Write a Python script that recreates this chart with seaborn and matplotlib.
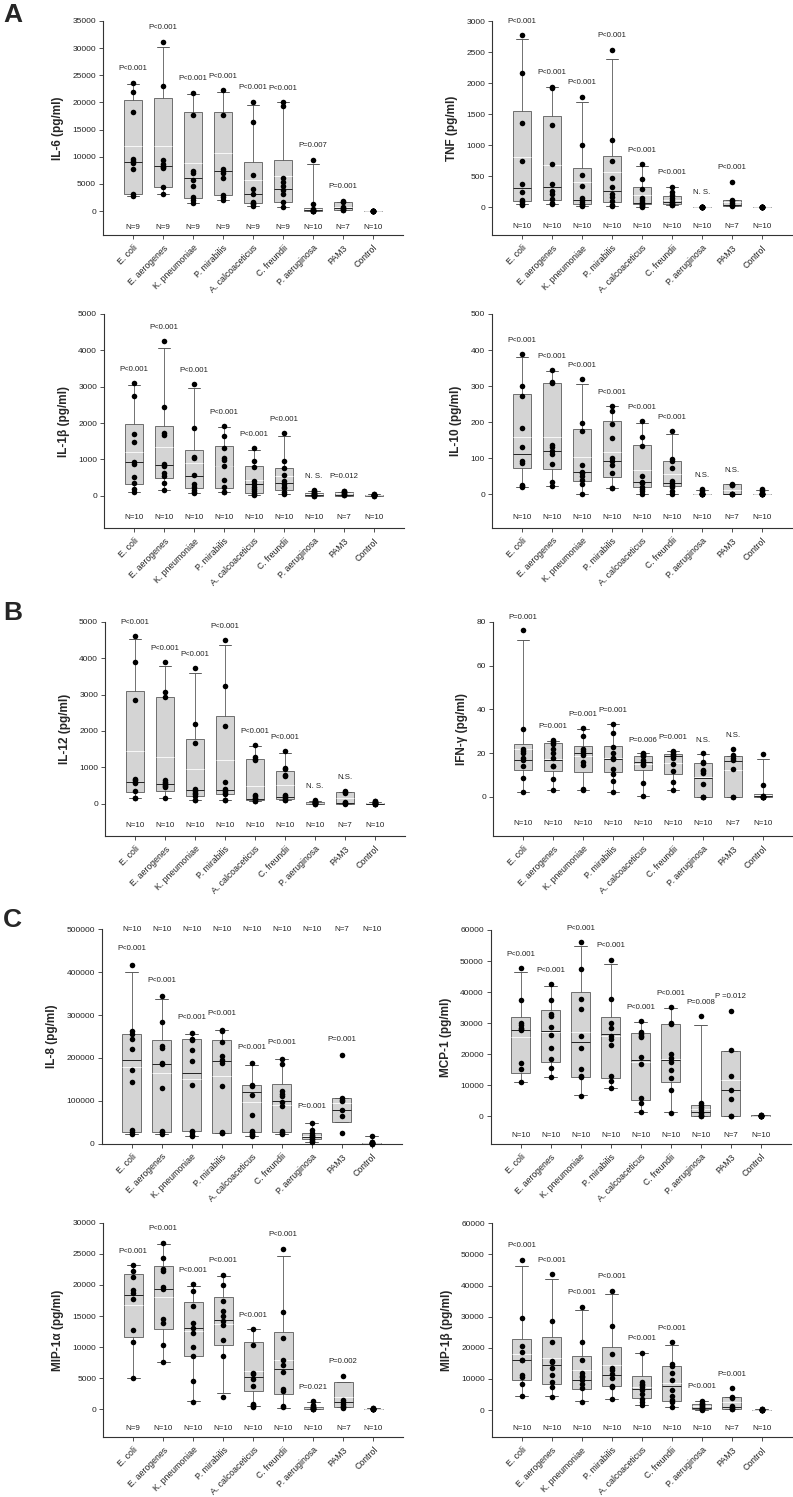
import numpy as np
import pandas as pd
import matplotlib
matplotlib.use("Agg")
import matplotlib.pyplot as plt
import seaborn as sns

sns.set_theme(style="ticks")
plt.rcParams["font.family"] = ["Liberation Sans", "DejaVu Sans"]

groups = ["E. coli", "E. aerogenes", "K. pneumoniae", "P. mirabilis", "A. calcoaceticus",
          "C. freundii", "P. aeruginosa", "PAM3", "Control"]

# ---- IL-6 ----
il6_points = [[23600, 21900, 18300, 9500, 9200, 8900, 7800, 3200, 2700],
              [31200, 23000, 9400, 8700, 8200, 8100, 8000, 4400, 3100],
              [21700, 17700, 7400, 7000, 5800, 4600, 2600, 2000, 1500],
              [22200, 17700, 7700, 7400, 7000, 6000, 3000, 2600, 2100],
              [20100, 16400, 6700, 4000, 3100, 1700, 1400, 1200, 900],
              [20000, 19400, 6100, 5300, 4600, 3900, 3200, 1700, 700],
              [9400, 1300, 300, 200, 100, 80, 50, 30, 20, 10],
              [1900, 1600, 700, 500, 300, 200, 100],
              [80, 60, 50, 40, 30, 20, 10, 10, 5, 0]]
# q1, median, q3, mean, whisker low, whisker high
il6_box = [(3200, 9100, 20500, 11900, 2700, 23400), (4400, 8200, 20800, 11900, 3100, 30300),
           (2400, 6100, 18200, 8900, 1500, 21500), (2900, 7300, 18300, 10600, 2100, 22000),
           (1400, 3100, 9100, 5700, 900, 19600), (1600, 4000, 9400, 6500, 700, 20000),
           (30, 150, 500, 300, 0, 8600), (150, 550, 1600, 800, 150, 1600), (10, 30, 50, 30, 0, 80)]
il6_p = ["P<0.001"] * 6 + ["P=0.007", "P=0.001", ""]
il6_n = ["N=9"] * 6 + ["N=10", "N=7", "N=10"]

# ---- TNF ----
tnf_points = [[2770, 2160, 1350, 740, 380, 250, 110, 80, 50, 40],
              [1940, 1920, 1330, 690, 380, 260, 220, 130, 70, 50],
              [1780, 1010, 520, 340, 150, 120, 90, 60, 40, 20],
              [2540, 1080, 750, 470, 330, 220, 160, 100, 40, 20],
              [690, 460, 290, 150, 110, 80, 60, 40, 20, 10],
              [330, 240, 190, 150, 120, 90, 70, 60, 40, 30],
              [12, 10, 8, 6, 5, 4, 3, 2, 1, 0],
              [410, 120, 100, 70, 40, 30, 20],
              [10, 8, 6, 5, 4, 3, 3, 2, 1, 0]]
tnf_box = [(95, 310, 1550, 810, 45, 2710), (115, 320, 1470, 680, 55, 1930),
           (55, 125, 640, 415, 20, 1700), (90, 270, 830, 570, 20, 2390),
           (50, 75, 330, 190, 10, 670), (45, 80, 175, 115, 30, 320),
           (2, 5, 8, 5, 0, 12), (25, 30, 110, 80, 25, 110), (2, 4, 6, 4, 0, 10)]
tnf_p = ["P<0.001"] * 6 + ["N. S.", "P<0.001", ""]
tnf_n = ["N=10"] * 7 + ["N=7", "N=10"]

# ---- IL-1beta ----
il1b_points = [[3100, 2740, 1710, 1480, 920, 880, 520, 360, 180, 110],
               [4250, 2450, 1730, 1670, 880, 820, 620, 530, 340, 160],
               [3080, 1850, 1070, 1050, 560, 330, 240, 170, 110, 80],
               [1910, 1630, 1310, 1050, 990, 830, 440, 240, 100, 90],
               [1310, 960, 780, 400, 330, 250, 180, 120, 60, 30],
               [1720, 950, 760, 580, 400, 330, 250, 200, 110, 40],
               [160, 130, 100, 80, 60, 40, 20, 10, 5, 0],
               [140, 120, 100, 80, 50, 20, 10],
               [40, 35, 30, 25, 20, 15, 10, 8, 5, 3]]
il1b_box = [(320, 940, 1960, 1210, 110, 3060), (480, 850, 1930, 1350, 160, 4060),
            (220, 530, 1270, 890, 80, 2950), (220, 820, 1380, 810, 90, 1880),
            (80, 330, 830, 440, 30, 1270), (170, 340, 750, 530, 40, 1640),
            (5, 30, 80, 50, 0, 140), (5, 30, 110, 70, 5, 110), (5, 15, 25, 18, 3, 40)]
il1b_p = ["P<0.001"] * 6 + ["N. S.", "P=0.012", ""]
il1b_n = ["N=10"] * 7 + ["N=7", "N=10"]

# ---- IL-10 ----
il10_points = [[390, 300, 272, 183, 131, 92, 87, 27, 23, 20],
               [346, 312, 310, 138, 130, 120, 112, 83, 35, 22],
               [320, 199, 176, 81, 63, 58, 52, 40, 29, 2],
               [246, 232, 194, 155, 100, 91, 82, 60, 18, 17],
               [204, 159, 133, 50, 35, 30, 20, 15, 10, 2],
               [175, 98, 92, 72, 38, 30, 25, 20, 10, 2],
               [15, 10, 5, 2, 1, 0, 0, 0, 0, 0],
               [28, 26, 25, 0, 0, 0, 0],
               [15, 10, 5, 0, 0, 0, 0, 0, 0, 0]]
il10_box = [(72, 113, 278, 158, 20, 380), (70, 120, 309, 160, 22, 342),
            (37, 61, 180, 103, 2, 305), (48, 91, 202, 116, 17, 246),
            (21, 33, 138, 68, 2, 199), (22, 32, 91, 56, 2, 166),
            (0, 0, 1, 1, 0, 13), (0, 0, 28, 12, 0, 28), (0, 0, 1, 1, 0, 13)]
il10_p = ["P<0.001"] * 6 + ["N.S.", "N.S.", ""]
il10_n = ["N=10"] * 7 + ["N=7", "N=10"]

# ---- IL-12 ----
il12_points = [[4600, 3890, 2850, 680, 640, 600, 580, 350, 150, 150],
               [3880, 3080, 2920, 640, 600, 560, 520, 480, 450, 150],
               [3730, 2200, 1660, 400, 360, 300, 260, 200, 100, 90],
               [4490, 3220, 2140, 590, 400, 350, 300, 280, 100, 90],
               [1620, 1270, 1230, 1200, 250, 200, 150, 120, 80, 70],
               [1450, 990, 940, 800, 770, 250, 200, 150, 100, 90],
               [90, 70, 60, 50, 40, 30, 20, 10, 5, 0],
               [350, 320, 300, 50, 20, 10, 0],
               [80, 70, 60, 30, 20, 10, 5, 5, 0, 0]]
il12_box = [(310, 610, 3100, 1450, 150, 4520), (360, 550, 2940, 1270, 150, 3790),
            (210, 370, 1790, 940, 90, 3580), (280, 390, 2400, 1210, 90, 4350),
            (110, 120, 1220, 500, 70, 1580), (120, 190, 900, 510, 90, 1400),
            (5, 20, 50, 30, 0, 80), (0, 10, 310, 150, 0, 310), (0, 5, 20, 10, 0, 60)]
il12_p = ["P<0.001"] * 6 + ["N. S.", "N.S.", ""]
il12_n = ["N=10"] * 7 + ["N=7", "N=10"]

# ---- IFN-gamma ----
ifng_points = [[76, 31, 22, 21, 20, 18, 17, 14, 8.5, 2.2],
               [26, 25, 24, 22, 20, 18, 14, 14, 8, 3.2],
               [31.5, 28, 22, 21, 20, 19, 16, 14.5, 3.5, 3],
               [33.5, 29, 23, 20, 18, 17.5, 13, 10.5, 7.5, 2.2],
               [20, 19.5, 19, 18.5, 17, 16, 15, 14.5, 6.5, 0.5],
               [21, 20.5, 19.5, 19, 18.5, 18, 15, 12, 7, 3.2],
               [20, 16, 15.5, 12.5, 12, 11, 5.8, 0, 0, 0],
               [22, 19, 18, 17, 13, 0.2, 0],
               [19.5, 5.5, 0.5, 0.3, 0.2, 0.1, 0, 0, 0, 0]]
ifng_box = [(12.5, 17, 24, 22, 2.2, 71.5), (12, 17, 24.5, 17.5, 3.2, 25.5),
            (11.5, 20, 23.5, 18.5, 3, 31), (11.5, 17.5, 23.5, 17.8, 2.2, 33.5),
            (12.5, 16, 18.5, 15, 0.5, 20), (10.5, 18.5, 19.5, 15.5, 3.2, 21),
            (0, 8.5, 15.5, 9, 0, 19.5), (0, 16.5, 18.5, 12.5, 0, 18.5), (0, 0.5, 1.3, 1.0, 0, 17.5)]
ifng_p = ["P=0.001"] * 4 + ["P=0.006", "P=0.001", "N.S.", "N.S.", ""]
ifng_n = ["N=10"] * 7 + ["N=7", "N=10"]

# ---- IL-8 ----
il8_points = [[417000, 262000, 255000, 244000, 222000, 171000, 145000, 32000, 27000, 22000],
              [344000, 284000, 227000, 224000, 188000, 185000, 131000, 30000, 28000, 22000],
              [257000, 245000, 241000, 219000, 193000, 137000, 30000, 28000, 20000, 19000],
              [265000, 263000, 238000, 205000, 195000, 189000, 134000, 27000, 26000, 25000],
              [188000, 137000, 134000, 113000, 66000, 30000, 28000, 22000, 20000, 19000],
              [198000, 187000, 122000, 117000, 111000, 98000, 88000, 30000, 25000, 22000],
              [49000, 33000, 25000, 20000, 17000, 15000, 12000, 10000, 6000, 3000],
              [206000, 107000, 103000, 100000, 79000, 65000, 26000],
              [18000, 5000, 3000, 2000, 1000, 1000, 500, 500, 0, 0]]
il8_box = [(28000, 196000, 256000, 178000, 22000, 401000), (28000, 187000, 241000, 165000, 22000, 338000),
           (29000, 165000, 244000, 150000, 19000, 256000), (25000, 193000, 242000, 157000, 25000, 264000),
           (28000, 121000, 137000, 98000, 19000, 183000), (28000, 100000, 139000, 90000, 22000, 197000),
           (10000, 16000, 24000, 18000, 3000, 48000), (50000, 79000, 106000, 95000, 50000, 106000),
           (0, 800, 1500, 1000, 0, 17000)]
il8_p = ["P<0.001"] * 6 + ["P=0.001", "P=0.001", ""]
il8_n = ["N=10"] * 7 + ["N=7", "N=10"]

# ---- MCP-1 ----
mcp1_points = [[47700, 37300, 30100, 29400, 28500, 28200, 27900, 17300, 15200, 11000],
               [42500, 37500, 33000, 32300, 28700, 26300, 22000, 18500, 15600, 12500],
               [56000, 47500, 37700, 34400, 25800, 22000, 15300, 13000, 12500, 6500],
               [50400, 37700, 30000, 28400, 26000, 24800, 22900, 13000, 11500, 9200],
               [30700, 27000, 26500, 25800, 25600, 19200, 17000, 6000, 4200, 1300],
               [35200, 30000, 29700, 20200, 18700, 17400, 15000, 12200, 8400, 1200],
               [32200, 4200, 3600, 2900, 2200, 1500, 1000, 500, 200, 0],
               [34000, 21200, 13000, 8600, 5600, 200, 100],
               [400, 300, 300, 200, 200, 100, 100, 0, 0, 0]]
mcp1_box = [(14000, 27800, 32000, 25500, 11100, 46500), (17600, 27500, 34200, 27000, 12700, 42000),
            (12800, 23800, 40000, 27000, 6800, 55000), (12400, 26500, 32000, 25800, 9200, 49000),
            (5400, 18000, 26700, 17500, 1300, 30500), (11200, 18000, 29800, 18500, 1500, 35000),
            (0, 1500, 3800, 2500, 0, 29400), (0, 8600, 21000, 11800, 0, 21000), (0, 150, 300, 160, 0, 400)]
mcp1_p = ["P<0.001"] * 6 + ["P=0.008", "P =0.012", ""]
mcp1_n = ["N=10"] * 7 + ["N=7", "N=10"]

# ---- MIP-1alpha ----
mip1a_points = [[23200, 22200, 21200, 19100, 18700, 17800, 12800, 10800, 5100],
                [26800, 24300, 22500, 22300, 19600, 19400, 14500, 13800, 10300, 7600],
                [20100, 19000, 16600, 13900, 13000, 12200, 10000, 8600, 4500, 1200],
                [21600, 20000, 17400, 15800, 15000, 14200, 13600, 11200, 8600, 2000],
                [12900, 10300, 5800, 5600, 4900, 3700, 900, 700, 500, 400],
                [25800, 15700, 11500, 7900, 7100, 6000, 3200, 3000, 600, 300],
                [1300, 700, 500, 300, 200, 150, 100, 80, 50, 0],
                [5400, 1500, 1100, 800, 600, 300, 200],
                [200, 150, 100, 80, 60, 50, 30, 20, 10, 0]]
mip1a_box = [(11700, 18300, 21700, 16700, 5100, 23200), (12900, 19400, 23100, 18100, 7600, 26500),
             (8600, 13000, 17200, 12600, 1300, 19900), (10400, 14300, 18000, 13700, 2600, 21500),
             (2900, 5200, 10900, 6100, 500, 12900), (2400, 6400, 12500, 8000, 200, 24700),
             (50, 150, 300, 250, 0, 1200), (300, 1100, 4400, 1900, 300, 4400), (10, 50, 100, 60, 0, 200)]
mip1a_p = ["P<0.001"] * 6 + ["P=0.021", "P=0.002", ""]
mip1a_n = ["N=9"] + ["N=10"] * 6 + ["N=7", "N=10"]

# ---- MIP-1beta ----
mip1b_points = [[48300, 29600, 20700, 18800, 16200, 16000, 11400, 10700, 8500, 4500],
                [43700, 28600, 21900, 15900, 15500, 13400, 11300, 9000, 7300, 4300],
                [33200, 22000, 16000, 12000, 11000, 10500, 9500, 8500, 7000, 2700],
                [38300, 27000, 18000, 13600, 12800, 11600, 10400, 7800, 7400, 3500],
                [18400, 9000, 8500, 8000, 7500, 6500, 5000, 3500, 2500, 1500],
                [21700, 14900, 14200, 11800, 9800, 6300, 4500, 3300, 2500, 900],
                [2900, 2300, 1800, 1500, 1200, 900, 600, 400, 200, 100],
                [7000, 4200, 4000, 1200, 500, 300, 200],
                [300, 250, 200, 150, 100, 80, 60, 40, 20, 10]]
mip1b_box = [(9800, 16000, 22700, 18100, 4600, 46300), (8400, 14500, 23400, 16800, 4400, 42100),
             (6800, 9600, 17400, 12700, 2800, 32000), (7600, 11400, 20100, 14500, 3600, 37200),
             (3700, 6600, 10900, 7400, 1500, 18300), (3000, 7600, 14000, 8800, 900, 20900),
             (300, 700, 1800, 1200, 100, 2900), (300, 1000, 4200, 2500, 300, 4200), (20, 80, 150, 100, 10, 300)]
mip1b_p = ["P<0.001"] * 6 + ["P<0.001", "P=0.001", ""]
mip1b_n = ["N=10"] * 7 + ["N=7", "N=10"]

# panel: label, points, box, p-labels, n-labels, (ymin, ymax, step), pixel box (left, top, bottom)
panels = [
    ("IL-6 (pg/ml)", il6_points, il6_box, il6_p, il6_n, (-4420, 35000, 5000), (103, 21, 235)),
    ("TNF (pg/ml)", tnf_points, tnf_box, tnf_p, tnf_n, (-451, 3000, 500), (492, 21, 235.3)),
    ("IL-1β (pg/ml)", il1b_points, il1b_box, il1b_p, il1b_n, (-897, 5000, 1000), (104, 314, 528.3)),
    ("IL-10 (pg/ml)", il10_points, il10_box, il10_p, il10_n, (-92.6, 500, 100), (492, 314, 527.7)),
    ("IL-12 (pg/ml)", il12_points, il12_box, il12_p, il12_n, (-887, 5000, 1000), (105, 621.7, 836)),
    ("IFN-γ (pg/ml)", ifng_points, ifng_box, ifng_p, ifng_n, (-17.8, 80, 20), (493, 621.7, 836)),
    ("IL-8 (pg/ml)", il8_points, il8_box, il8_p, il8_n, (0, 500000, 100000), (101.7, 929.3, 1143.7)),
    ("MCP-1 (pg/ml)", mcp1_points, mcp1_box, mcp1_p, mcp1_n, (-8920, 60000, 10000), (490.7, 930, 1144)),
    ("MIP-1α (pg/ml)", mip1a_points, mip1a_box, mip1a_p, mip1a_n, (-4453, 30000, 5000), (103.3, 1222.7, 1437)),
    ("MIP-1β (pg/ml)", mip1b_points, mip1b_box, mip1b_p, mip1b_n, (-8773, 60000, 10000), (491.7, 1223.3, 1437.3)),
]

W, H = 793, 1497
fig = plt.figure(figsize=(W / 100, H / 100), dpi=100)

edge = "#5a5a5a"
for ylabel, pts, box, plab, nlab, (ylo, yhi, step), (lpx, tpx, bpx) in panels:
    ax = fig.add_axes([lpx / W, 1 - bpx / H, 300 / W, (bpx - tpx) / H])

    df = pd.DataFrame([(g, v) for g, vals in zip(groups, pts) for v in vals], columns=["group", "value"])
    sns.stripplot(data=df, x="group", y="value", order=groups, jitter=False, color="black",
                  size=4.0, linewidth=0, ax=ax, zorder=5, clip_on=False)

    stats = [dict(q1=b[0], med=b[1], q3=b[2], mean=b[3], whislo=b[4], whishi=b[5], fliers=[]) for b in box]
    ax.bxp(stats, positions=range(len(groups)), widths=0.62, capwidths=0.42, patch_artist=True,
           showmeans=True, meanline=True, showfliers=False, manage_ticks=False,
           boxprops=dict(facecolor="#d4d4d4", edgecolor=edge, linewidth=0.6),
           medianprops=dict(color="#222222", linewidth=0.7),
           meanprops=dict(color="white", linestyle="-", linewidth=0.6),
           whiskerprops=dict(color=edge, linewidth=0.6),
           capprops=dict(color=edge, linewidth=0.7))

    ax.set_xlim(-1, 9)
    ax.set_ylim(ylo, yhi)
    ax.set_yticks(np.arange(0, yhi + step / 2, step))
    ax.set_yticklabels([f"{int(v)}" for v in np.arange(0, yhi + step / 2, step)])
    ax.set_xticks(range(len(groups)))
    ax.set_xticklabels(groups, rotation=45, ha="right", rotation_mode="anchor")
    ax.tick_params(axis="both", length=3, width=0.6, color="#333333", labelsize=6, pad=2,
                   labelcolor="#222222")
    ax.tick_params(axis="x", labelsize=6.3, pad=3)
    ax.set_xlabel("")
    ax.set_ylabel(ylabel, fontsize=8.5, fontweight="bold", labelpad=6)
    sns.despine(ax=ax)
    for s in ("left", "bottom"):
        ax.spines[s].set_linewidth(0.8)
        ax.spines[s].set_color("#333333")

    n_top = ylo == 0
    for i in range(len(groups)):
        top = max(max(pts[i]), box[i][5])
        if plab[i]:
            ax.text(i, top + 0.075 * yhi, plab[i], ha="center", va="center", fontsize=5.6,
                    color="#222222")
        ny = yhi if n_top else ylo * 0.68
        ax.text(i, ny, nlab[i], ha="center", va="center", fontsize=5.8, color="#222222")

for letter, ypx in (("A", 3), ("B", 601), ("C", 908)):
    fig.text(3 / W, 1 - ypx / H, letter, fontsize=19, fontweight="bold", va="top", ha="left")

fig.savefig("out.png", dpi=100)
